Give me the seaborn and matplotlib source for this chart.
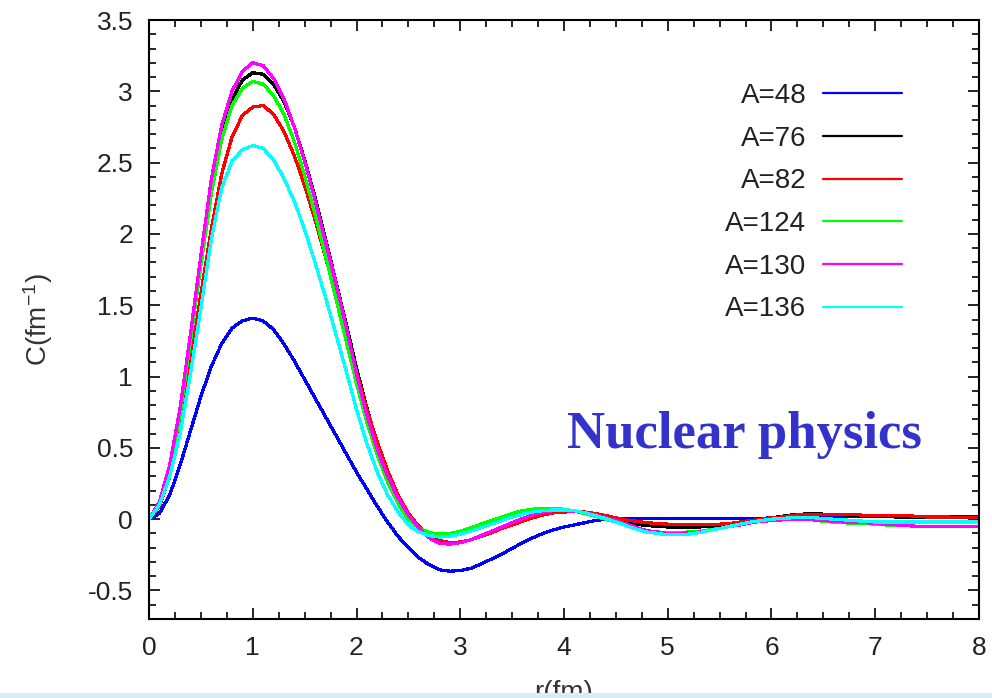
import numpy as np
import pandas as pd
import matplotlib
matplotlib.use("Agg")
import matplotlib.pyplot as plt
from matplotlib.ticker import MultipleLocator, FuncFormatter
from matplotlib.patches import Rectangle
import seaborn as sns

# radial grid (fm), 0.1 fm spacing
r_fm = np.round(np.arange(81) * 0.1, 1)

# correlation function C(r) in fm^-1 for each mass number
c_a48 = [
    0.00, 0.04, 0.17, 0.38, 0.62, 0.86, 1.07, 1.23, 1.34, 1.39,
    1.41, 1.39, 1.33, 1.23, 1.11, 0.98, 0.85, 0.72, 0.59, 0.46,
    0.33, 0.21, 0.09, -0.02, -0.12, -0.20, -0.27, -0.32, -0.355, -0.365,
    -0.36, -0.345, -0.315, -0.28, -0.245, -0.205, -0.165, -0.13, -0.10, -0.075,
    -0.055, -0.04, -0.025, -0.01, 0.0, 0.005, 0.005, 0.005, 0.005, 0.005,
    0.005, 0.005, 0.005, 0.005, 0.005, 0.005, 0.005, 0.005, 0.005, 0.005,
    0.01, 0.01, 0.015, 0.02, 0.02, 0.02, 0.02, 0.02, 0.02, 0.02,
    0.02, 0.02, 0.02, 0.02, 0.02, 0.02, 0.02, 0.02, 0.02, 0.02,
    0.02,
]
c_a76 = [
    0.00, 0.11, 0.36, 0.76, 1.27, 1.80, 2.30, 2.70, 2.94, 3.08,
    3.13, 3.12, 3.05, 2.93, 2.75, 2.52, 2.26, 1.97, 1.67, 1.37,
    1.06, 0.78, 0.53, 0.32, 0.15, 0.03, -0.06, -0.12, -0.16, -0.17,
    -0.165, -0.145, -0.12, -0.09, -0.06, -0.035, -0.01, 0.015, 0.035, 0.05,
    0.055, 0.055, 0.045, 0.03, 0.015, 0.0, -0.02, -0.035, -0.045, -0.05,
    -0.055, -0.055, -0.055, -0.055, -0.05, -0.045, -0.035, -0.025, -0.01, 0.0,
    0.01, 0.02, 0.03, 0.035, 0.04, 0.035, 0.03, 0.03, 0.025, 0.02,
    0.02, 0.02, 0.015, 0.015, 0.015, 0.01, 0.01, 0.01, 0.01, 0.01,
    0.01,
]
c_a82 = [
    0.00, 0.09, 0.30, 0.65, 1.10, 1.58, 2.03, 2.42, 2.68, 2.83,
    2.89, 2.90, 2.84, 2.72, 2.55, 2.34, 2.10, 1.84, 1.58, 1.30,
    1.03, 0.77, 0.54, 0.34, 0.17, 0.04, -0.05, -0.11, -0.15, -0.165,
    -0.16, -0.145, -0.12, -0.095, -0.065, -0.04, -0.015, 0.01, 0.03, 0.045,
    0.05, 0.055, 0.05, 0.04, 0.025, 0.01, -0.005, -0.015, -0.025, -0.03,
    -0.035, -0.035, -0.035, -0.035, -0.035, -0.035, -0.03, -0.02, -0.01, 0.0,
    0.01, 0.015, 0.025, 0.035, 0.035, 0.035, 0.035, 0.035, 0.035, 0.025,
    0.025, 0.025, 0.025, 0.025, 0.02, 0.015, 0.015, 0.015, 0.01, 0.01,
    0.01,
]
c_a124 = [
    0.00, 0.10, 0.34, 0.74, 1.25, 1.78, 2.28, 2.66, 2.90, 3.02,
    3.07, 3.05, 2.97, 2.84, 2.65, 2.41, 2.14, 1.85, 1.55, 1.25,
    0.95, 0.68, 0.45, 0.26, 0.11, 0.00, -0.06, -0.095, -0.105, -0.10,
    -0.085, -0.06, -0.035, -0.01, 0.015, 0.04, 0.06, 0.07, 0.075, 0.075,
    0.07, 0.055, 0.04, 0.02, 0.0, -0.02, -0.045, -0.065, -0.08, -0.09,
    -0.095, -0.095, -0.09, -0.085, -0.075, -0.065, -0.05, -0.035, -0.02, -0.01,
    0.0, 0.0, 0.0, 0.0, -0.005, -0.015, -0.02, -0.025, -0.03, -0.03,
    -0.035, -0.04, -0.045, -0.045, -0.05, -0.05, -0.05, -0.05, -0.05, -0.05,
    -0.05,
]
c_a130 = [
    0.00, 0.12, 0.38, 0.78, 1.30, 1.85, 2.38, 2.76, 3.00, 3.14,
    3.20, 3.18, 3.09, 2.95, 2.75, 2.51, 2.24, 1.95, 1.66, 1.35,
    1.02, 0.73, 0.49, 0.30, 0.15, 0.03, -0.06, -0.13, -0.17, -0.175,
    -0.165, -0.145, -0.115, -0.085, -0.055, -0.025, 0.005, 0.03, 0.05, 0.06,
    0.06, 0.055, 0.045, 0.03, 0.01, -0.01, -0.035, -0.06, -0.08, -0.09,
    -0.10, -0.10, -0.095, -0.09, -0.08, -0.065, -0.05, -0.04, -0.025, -0.015,
    -0.01, -0.005, 0.0, 0.0, -0.005, -0.01, -0.015, -0.02, -0.02, -0.025,
    -0.03, -0.035, -0.04, -0.045, -0.05, -0.05, -0.05, -0.05, -0.05, -0.05,
    -0.05,
]
c_a136 = [
    0.00, 0.10, 0.30, 0.60, 1.02, 1.48, 1.96, 2.32, 2.51, 2.59,
    2.62, 2.60, 2.52, 2.39, 2.23, 2.03, 1.80, 1.56, 1.30, 1.04,
    0.77, 0.53, 0.33, 0.17, 0.05, -0.04, -0.09, -0.115, -0.125, -0.12,
    -0.105, -0.085, -0.06, -0.035, -0.01, 0.015, 0.035, 0.05, 0.06, 0.065,
    0.065, 0.06, 0.045, 0.025, 0.005, -0.02, -0.045, -0.07, -0.09, -0.10,
    -0.11, -0.11, -0.105, -0.095, -0.08, -0.065, -0.05, -0.035, -0.02, -0.01,
    0.0, 0.005, 0.01, 0.01, 0.01, 0.005, 0.0, -0.005, -0.01, -0.015,
    -0.02, -0.02, -0.02, -0.02, -0.02, -0.02, -0.02, -0.02, -0.02, -0.02,
    -0.02,
]

series_labels = ["A=48", "A=76", "A=82", "A=124", "A=130", "A=136"]
series_values = [c_a48, c_a76, c_a82, c_a124, c_a130, c_a136]
series_colors = ["#0000ff", "#000000", "#ff0000", "#00ff00", "#ff00ff", "#00ffff"]

x_ticks = [0, 1, 2, 3, 4, 5, 6, 7, 8]
y_ticks = [-0.5, 0, 0.5, 1, 1.5, 2, 2.5, 3, 3.5]

df = pd.concat(
    [pd.DataFrame({"r": r_fm, "C": vals, "A": lab})
     for lab, vals in zip(series_labels, series_values)],
    ignore_index=True,
)

sns.set_style("ticks")
plt.rcParams["font.family"] = ["Liberation Sans", "DejaVu Sans"]
plt.rcParams["mathtext.default"] = "regular"
plt.rcParams["axes.unicode_minus"] = False

W, H = 992, 698
fig = plt.figure(figsize=(W / 100, H / 100), dpi=100)
ax = fig.add_axes([149 / W, 1 - 619 / H, 830 / W, 599 / H])

sns.lineplot(
    data=df, x="r", y="C", hue="A", hue_order=series_labels,
    palette=dict(zip(series_labels, series_colors)),
    estimator=None, errorbar=None, sort=False,
    linewidth=1.6, antialiased=False, ax=ax,
)

ax.set_xlim(0, 8)
ax.set_ylim(-0.7, 3.5)
ax.set_xticks(x_ticks)
ax.set_yticks(y_ticks)
ax.xaxis.set_minor_locator(MultipleLocator(0.25))
ax.yaxis.set_minor_locator(MultipleLocator(0.1))
ax.yaxis.set_major_formatter(FuncFormatter(lambda v, p: f"{v:g}"))
ax.xaxis.set_major_formatter(FuncFormatter(lambda v, p: f"{v:g}"))

for sp in ax.spines.values():
    sp.set_visible(True)
    sp.set_linewidth(1.5)
    sp.set_color("black")

ax.tick_params(which="both", direction="in", top=True, right=True,
               color="black", width=1.2, labelcolor="#222222", labelsize=19)
ax.tick_params(which="major", length=8)
ax.tick_params(which="minor", length=5)
ax.tick_params(axis="y", which="major", pad=11.5)
ax.tick_params(axis="x", which="major", pad=12)

ax.set_xlabel("r(fm)", fontsize=20, color="#333333", labelpad=15)
ax.set_ylabel("C(fm$^{-1}$)", fontsize=20, color="#333333")
ax.yaxis.set_label_coords(-94 / 830, 0.5)

handles, labels = ax.get_legend_handles_labels()
for h in handles:
    h.set_linewidth(1.6)
leg = ax.legend(
    handles, labels, loc="upper right", bbox_to_anchor=(0.907, 0.895),
    frameon=False, markerfirst=False, handlelength=2.85, handletextpad=0.58,
    labelspacing=0.6, borderpad=0, borderaxespad=0, fontsize=20,
)
for t in leg.get_texts():
    t.set_color("#222222")

fig.text(567 / W, 1 - 448 / H, "Nuclear physics", fontfamily="Liberation Serif",
         fontweight="bold", fontsize=38, color="#3333cc", ha="left", va="baseline")

fig.add_artist(Rectangle((0, 0), 1, 5.5 / H, transform=fig.transFigure,
                         facecolor="#d9ecfa", edgecolor="none", zorder=10))

fig.savefig("out.png", dpi=100)
